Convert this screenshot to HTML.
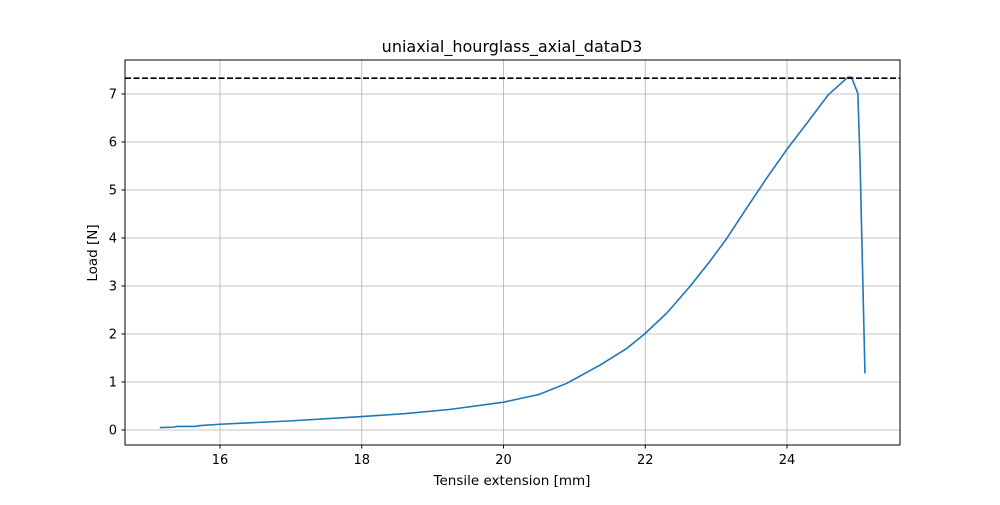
<!DOCTYPE html>
<html><head><meta charset="utf-8"><style>
body{margin:0;background:#fff;font-family:"Liberation Sans","DejaVu Sans",sans-serif}
</style></head><body>
<svg width="1000" height="500" xmlns="http://www.w3.org/2000/svg" font-family="DejaVu Sans, Liberation Sans, sans-serif">
<rect width="1000" height="500" fill="#fff"/>
<g id="grid"></g>
<g id="ticks"></g>
<g id="series"></g>
<rect x="125" y="60" width="775" height="385" fill="none" stroke="#000" stroke-width="1"/>
<text x="512" y="52" text-anchor="middle" font-size="16">uniaxial_hourglass_axial_dataD3</text>
<text x="512" y="485" text-anchor="middle" font-size="13.5">Tensile extension [mm]</text>
<text x="0" y="0" transform="translate(97,253) rotate(-90)" text-anchor="middle" font-size="13.5">Load [N]</text>
</svg>
<script>
const xTicks=[16,18,20,22,24];
const yTicks=[0,1,2,3,4,5,6,7];
const xs=[15.15,15.35,15.4,15.65,15.7,16,17,18,18.6,19.25,20,20.5,20.89,21.36,21.74,21.99,22.3,22.63,22.91,23.15,23.43,23.71,23.99,24.28,24.58,24.86,24.91,25.0,25.03,25.1];
const ys=[0.05,0.06,0.075,0.075,0.09,0.12,0.19,0.28,0.34,0.43,0.58,0.74,0.97,1.35,1.70,2.0,2.43,2.99,3.51,3.99,4.62,5.24,5.83,6.39,6.98,7.35,7.35,7.01,5.63,1.18];
const maxLoad=[7.33];
const X=v=>220+(v-16)*70.875, Y=v=>430-v*48;
const NS="http://www.w3.org/2000/svg";
function mk(t,a,p){const e=document.createElementNS(NS,t);for(const k in a)e.setAttribute(k,a[k]);p.appendChild(e);return e;}
const g=document.getElementById('grid'),tk=document.getElementById('ticks'),s=document.getElementById('series');
xTicks.forEach(v=>{
 const l=mk('line',{x1:X(v),x2:X(v),y1:60,y2:445,stroke:'#b0b0b0','stroke-width':0.8},g);
 
 
 const m=mk('line',{x1:X(v),x2:X(v),y1:445,y2:448.5,stroke:'#000'},tk);
 
 
 const t=mk('text',{x:X(v),y:464,'text-anchor':'middle','font-size':13},tk);t.textContent=v;
 
 
});
yTicks.forEach(v=>{
 const l=mk('line',{x1:125,x2:900,y1:Y(v),y2:Y(v),stroke:'#b0b0b0','stroke-width':0.8},g);
 
 
 const m=mk('line',{x1:121.5,x2:125,y1:Y(v),y2:Y(v),stroke:'#000'},tk);
 
 
 const t=mk('text',{x:117,y:Y(v)+4.5,'text-anchor':'end','font-size':13},tk);t.textContent=v;
 
 
});
const p=mk('polyline',{points:xs.map((x,i)=>X(x)+','+Y(ys[i])).join(' '),fill:'none',stroke:'#1f77b4','stroke-width':1.6,'stroke-linejoin':'round'},s);


const d=mk('line',{x1:125,x2:900,y1:Y(maxLoad[0]),y2:Y(maxLoad[0]),stroke:'#000','stroke-width':1.6,'stroke-dasharray':'6,2.5'},s);


</script>
</body></html>
